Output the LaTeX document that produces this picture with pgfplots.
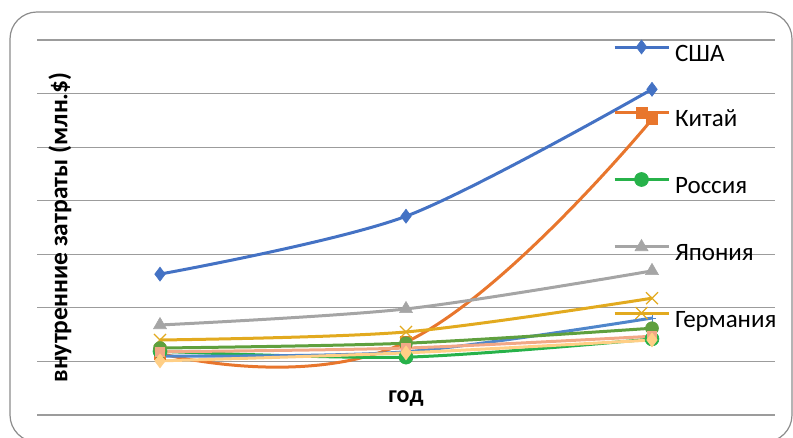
\documentclass[border=0pt]{standalone}
\usepackage{pgfplots}
\pgfplotsset{compat=1.18}
\usepackage{fontspec}
\setmainfont{Carlito}

\definecolor{usa}{HTML}{4472C4}
\definecolor{china}{HTML}{E8762D}
\definecolor{russia}{HTML}{27B24A}
\definecolor{japan}{HTML}{A5A5A5}
\definecolor{germany}{HTML}{E2AA1F}
\definecolor{blueb}{HTML}{4F86CB}
\definecolor{greenb}{HTML}{5FA03E}
\definecolor{salmon}{HTML}{F2A886}
\definecolor{lorange}{HTML}{FFCF86}
\definecolor{gridgray}{HTML}{9C9C9C}

\begin{document}
\begin{tikzpicture}
\useasboundingbox (0,0) rectangle (793pt,438pt);
\draw[rounded corners=27pt, color=black!45, line width=1.2pt] (10pt,-4pt) rectangle (792pt,426pt);
\begin{axis}[
    at={(37pt,23pt)}, anchor=south west,
    scale only axis, width=738pt, height=375pt,
    xmin=-0.5, xmax=2.5, ymin=0, ymax=7,
    axis line style={draw=none},
    xtick=\empty, ytick={0,...,7}, yticklabels={,,,,,,,},
    major tick length=0pt,
    ymajorgrids, grid style={color=gridgray, line width=1.1pt},
    every axis plot/.append style={line width=3pt, smooth},
    xlabel={год},
    xlabel style={at={(axis description cs:0.5,0.045)}, anchor=center,
        font=\bfseries\fontsize{24}{28}\selectfont},
    ylabel={внутренние затраты (млн.\$)},
    ylabel style={at={(axis description cs:0.031,0.5)}, anchor=center,
        font=\bfseries\fontsize{25.5}{30}\selectfont},
    legend style={at={(axis description cs:0.7805,1.0)}, anchor=north west,
        draw=none, fill=none, inner sep=0pt, outer sep=0pt,
        row sep=41pt, column sep=5pt,
        font=\fontsize{25}{30}\selectfont,
        nodes={inner sep=0pt, text height=17pt, text depth=5pt}},
    legend cell align=left,
    legend image code/.code={\draw[mark repeat=2, mark phase=2, #1, yshift=8pt]
        plot coordinates {(0pt,0pt) (27pt,0pt) (54pt,0pt)};},
]
\addplot[usa, mark=diamond*, mark size=7pt, mark options={solid, fill=usa, line width=0.6pt}]
    coordinates {(0,2.63) (1,3.71) (2,6.08)};
\addlegendentry{США}
\addplot[china, tension=0.75, mark=square*, mark size=5.5pt, mark options={solid, fill=china, line width=0.6pt}]
    coordinates {(0,1.15) (1,1.36) (2,5.52)};
\addlegendentry{Китай}
\addplot[russia, mark=*, mark size=7pt, mark options={solid, fill=russia, line width=0.6pt}]
    coordinates {(0,1.19) (1,1.08) (2,1.42)};
\addlegendentry{Россия}
\addplot[japan, mark=triangle*, mark size=7.5pt, mark options={solid, fill=japan, line width=0.6pt}]
    coordinates {(0,1.68) (1,1.98) (2,2.69)};
\addlegendentry{Япония}
\addplot[germany, mark=x, mark size=8.5pt, mark options={solid, line width=1.2pt}]
    coordinates {(0,1.40) (1,1.55) (2,2.18)};
\addlegendentry{Германия}
\addplot[blueb, mark=+, mark size=4pt, mark options={solid, line width=1pt}, forget plot]
    coordinates {(0,1.10) (1,1.18) (2,1.81)};
\addplot[greenb, mark=*, mark size=6.5pt, mark options={solid, fill=greenb, line width=0.6pt}, forget plot]
    coordinates {(0,1.25) (1,1.34) (2,1.62)};
\addplot[salmon, mark=square*, mark size=4.5pt, mark options={solid, fill=salmon, line width=0.6pt}, forget plot]
    coordinates {(0,1.18) (1,1.25) (2,1.47)};
\addplot[lorange, mark=diamond*, mark size=7pt, mark options={solid, fill=lorange, line width=0.6pt}, forget plot]
    coordinates {(0,1.01) (1,1.16) (2,1.40)};
\end{axis}
\end{tikzpicture}
\end{document}
